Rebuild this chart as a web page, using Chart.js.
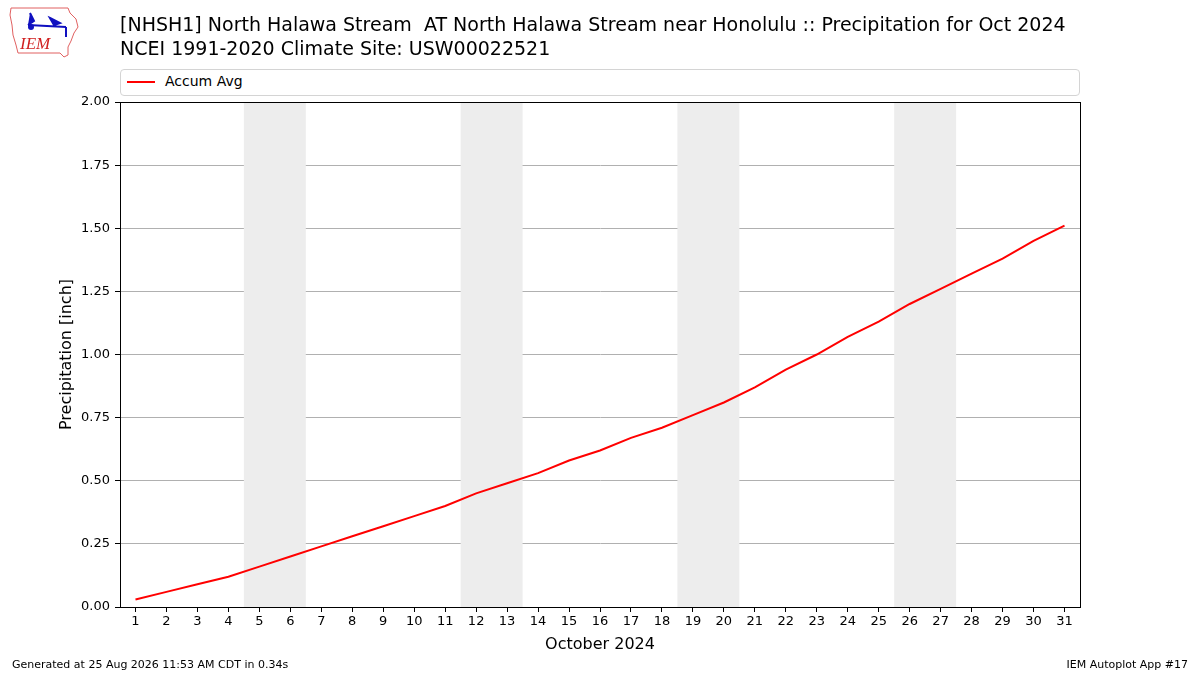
<!DOCTYPE html>
<html>
<head>
<meta charset="utf-8">
<script src="https://cdn.jsdelivr.net/npm/chart.js@4"></script>
<style>
    body { margin: 0; background: #fff; font-family: "DejaVu Sans", sans-serif; }
    #wrap { position: relative; width: 1200px; height: 675px; }
    #chart { position: absolute; left: 0; top: 0; }
    .title { position: absolute; left: 120px; font-size: 19px; color: #000; white-space: pre; }
    .legend { position: absolute; left: 120px; top: 69px; width: 958px; height: 25px; border: 1px solid #d4d4d4; border-radius: 4px; background: #fff; }
    .legend span.swatch { position: absolute; left: 6px; top: 11px; width: 28px; height: 2px; background: #ff0000; }
    .legend span.label { position: absolute; left: 44px; top: 3px; font-size: 14px; }
    .foot { position: absolute; top: 658px; font-size: 11px; }
    #logo { position: absolute; left: 8px; top: 5px; }
</style>
</head>
<body>
<div id="wrap">
    <canvas id="chart" width="1200" height="675"></canvas>
    <svg id="logo" width="72" height="54" viewBox="0 0 72 54">
        <path d="M3,3 L60,3 L62,8 L68,14 L70,22 L66,28 L63,36 L60,42 L60,50 L56,52 L52,48 L10,48 L8,40 L5,30 L4,20 L2,10 Z" fill="#fff" stroke="#e06060" stroke-width="1"/>
        <path d="M20,20 L58,22 M42,13 L52,18 L46,20 Z M58,22 L58,32 M22,8 L26,16 L20,20" stroke="#1010c0" stroke-width="2" fill="#1010c0"/>
        <circle cx="23" cy="22" r="3" fill="#1010c0"/>
        <text x="12" y="44" font-family="Liberation Serif, serif" font-style="italic" font-size="17" fill="#d02020">IEM</text>
    </svg>
    <div class="title" style="top: 13px;">[NHSH1] North Halawa Stream  AT North Halawa Stream near Honolulu :: Precipitation for Oct 2024</div>
    <div class="title" style="top: 37px;">NCEI 1991-2020 Climate Site: USW00022521</div>
    <div class="legend"><span class="swatch"></span><span class="label">Accum Avg</span></div>
    <div class="foot" style="left: 12px;">Generated at 25 Aug 2026 11:53 AM CDT in 0.34s</div>
    <div class="foot" style="right: 12px;">IEM Autoplot App #17</div>
</div>
<script>
// days of October 2024 and the accumulated average precipitation (inch)
const days = [1, 2, 3, 4, 5, 6, 7, 8, 9, 10, 11, 12, 13, 14, 15, 16,
    17, 18, 19, 20, 21, 22, 23, 24, 25, 26, 27, 28, 29, 30, 31];
const accumAvg = [0.03, 0.06, 0.09, 0.12, 0.16, 0.20, 0.24, 0.28, 0.32, 0.36, 0.40,
    0.45, 0.49, 0.53, 0.58, 0.62, 0.67, 0.71, 0.76, 0.81, 0.87, 0.94, 1.00,
    1.07, 1.13, 1.20, 1.26, 1.32, 1.38, 1.45, 1.51];
// saturdays, each shaded with the following sunday
const weekendStarts = [5, 12, 19, 26];
const yTicks = [0, 0.25, 0.5, 0.75, 1.0, 1.25, 1.5, 1.75, 2.0];

const weekendShade = {
    id: 'weekendShade',
    beforeDatasetsDraw(chart) {
        const { ctx, chartArea, scales } = chart;
        ctx.save();
        ctx.fillStyle = '#ededed';
        weekendStarts.forEach(d => {
            const x0 = scales.x.getPixelForValue(d - 0.5);
            const x1 = scales.x.getPixelForValue(d + 1.5);
            ctx.fillRect(x0, chartArea.top, x1 - x0, chartArea.bottom - chartArea.top);
        });
        ctx.restore();
    },
    afterDraw(chart) {
        // matplotlib style frame on all four sides
        const { ctx, chartArea } = chart;
        ctx.save();
        ctx.strokeStyle = '#000';
        ctx.lineWidth = 1;
        ctx.strokeRect(chartArea.left + 0.5, chartArea.top + 0.5,
            chartArea.right - chartArea.left, chartArea.bottom - chartArea.top);
        ctx.restore();
    }
};

const ctx = document.getElementById('chart');
new Chart(ctx, {
    type: 'line',
    data: {
        datasets: [{
            label: 'Accum Avg',
            data: days.map((d, i) => ({ x: d, y: accumAvg[i] })),
            borderColor: '#ff0000',
            borderWidth: 2,
            pointRadius: 0,
            tension: 0,
        }]
    },
    options: {
        responsive: false,
        animation: false,
        layout: {
            padding: { left: 50, top: 102, right: 120, bottom: 21 }
        },
        plugins: {
            legend: { display: false },
            tooltip: { enabled: false },
        },
        scales: {
            x: {
                type: 'linear',
                min: 0.5,
                max: 31.5,
                afterBuildTicks: scale => {
                    scale.ticks = days.map(d => ({ value: d }));
                },
                afterFit: scale => { scale.height = 47; },
                grid: { drawOnChartArea: false, tickLength: 5, color: '#000' },
                border: { color: '#000' },
                ticks: {
                    color: '#000',
                    font: { family: 'DejaVu Sans', size: 13 },
                    padding: 2,
                    maxRotation: 0,
                    autoSkip: false,
                },
                title: {
                    display: true,
                    text: 'October 2024',
                    color: '#000',
                    font: { family: 'DejaVu Sans', size: 16 },
                    padding: { top: 2, bottom: 0 },
                }
            },
            y: {
                min: 0,
                max: 2,
                afterBuildTicks: scale => {
                    scale.ticks = yTicks.map(v => ({ value: v }));
                },
                afterFit: scale => { scale.width = 70; },
                grid: {
                    color: '#b0b0b0',
                    tickColor: '#000',
                    tickLength: 5,
                },
                border: { color: '#000' },
                ticks: {
                    color: '#000',
                    font: { family: 'DejaVu Sans', size: 13 },
                    padding: 5,
                    callback: v => v.toFixed(2),
                },
                title: {
                    display: true,
                    text: 'Precipitation [inch]',
                    color: '#000',
                    font: { family: 'DejaVu Sans', size: 16 },
                    padding: { top: 7, bottom: 0 },
                }
            }
        }
    },
    plugins: [weekendShade]
});
</script>
</body>
</html>
